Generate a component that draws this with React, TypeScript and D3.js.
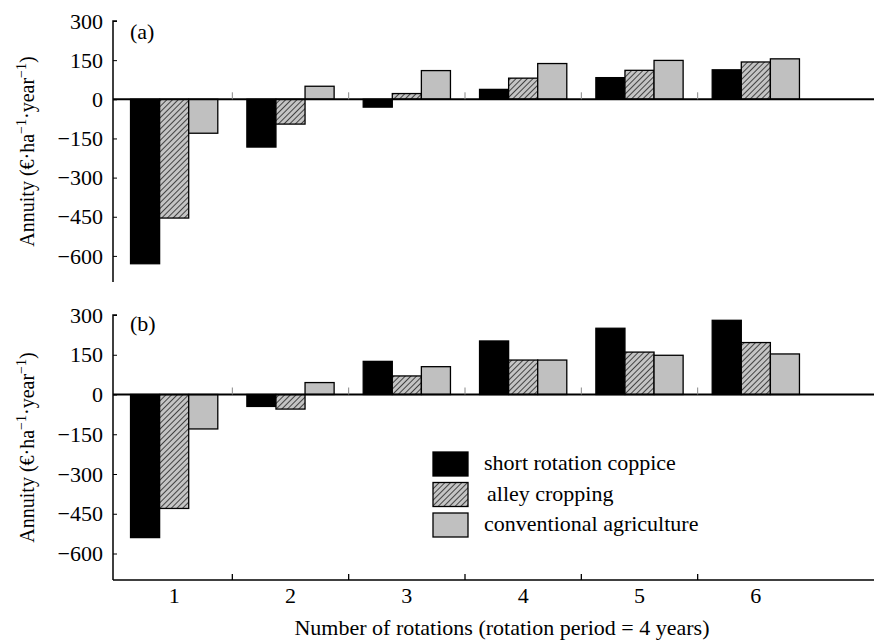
import { useEffect, useRef } from "react";
import * as d3 from "d3";

const width = 874;
const height = 644;

const rotations = ["1", "2", "3", "4", "5", "6"];
const seriesNames = ["short rotation coppice", "alley cropping", "conventional agriculture"];
const yTicks = [300, 150, 0, -150, -300, -450, -600];

// panel (a)
const coppiceA = [-630, -183, -30, 38, 83, 113];
const alleyA = [-455, -95, 22, 81, 111, 143];
const conventionalA = [-130, 50, 110, 137, 149, 155];

// panel (b)
const coppiceB = [-540, -45, 125, 202, 250, 280];
const alleyB = [-430, -55, 70, 130, 160, 196];
const conventionalB = [-130, 45, 105, 130, 148, 153];

const FONT = "'Liberation Serif', 'DejaVu Serif', serif";
const AXIS_X = 113;

function App() {
  const svgRef = useRef(null);

  useEffect(() => {
    const svg = d3.select(svgRef.current);
    svg.selectAll("*").remove();

    // hatch pattern for alley cropping
    const defs = svg.append("defs");
    const pat = defs.append("pattern")
      .attr("id", "hatch")
      .attr("patternUnits", "userSpaceOnUse")
      .attr("width", 4)
      .attr("height", 4)
      .attr("patternTransform", "rotate(45)");
    pat.append("rect").attr("width", 4).attr("height", 4).attr("fill", "#c4c4c4");
    pat.append("line")
      .attr("x1", 0).attr("y1", 0).attr("x2", 0).attr("y2", 4)
      .attr("stroke", "#222").attr("stroke-width", 1.6);

    const fills = ["#000", "url(#hatch)", "#c0c0c0"];

    const xScale = d3.scaleBand().domain(rotations).range([116, 814]).paddingInner(0).paddingOuter(0);
    const inner = d3.scaleBand().domain(seriesNames).range([0, xScale.bandwidth()]).paddingOuter(0.5).paddingInner(0);
    // boundaries between groups
    const bounds = rotations.slice(1).map(r => xScale(r));

    const drawPanel = (series, range, label, labelY, showXAxis) => {
      const yScale = d3.scaleLinear().domain([-700, 300]).range(range);
      const g = svg.append("g");

      // bars
      series.forEach((vals, si) => {
        g.selectAll(null)
          .data(vals)
          .join("rect")
          .attr("x", (d, i) => xScale(rotations[i]) + inner(seriesNames[si]))
          .attr("width", inner.bandwidth())
          .attr("y", d => yScale(Math.max(0, d)))
          .attr("height", d => Math.abs(yScale(d) - yScale(0)))
          .attr("fill", fills[si])
          .attr("stroke", "#000")
          .attr("stroke-width", 1.3);
      });

      // zero line
      g.append("line")
        .attr("x1", AXIS_X).attr("x2", width)
        .attr("y1", yScale(0)).attr("y2", yScale(0))
        .attr("stroke", "#000").attr("stroke-width", 2);

      // small ticks on zero line at group boundaries
      g.selectAll(null)
        .data(bounds)
        .join("line")
        .attr("x1", d => d).attr("x2", d => d)
        .attr("y1", yScale(0) - 7).attr("y2", yScale(0))
        .attr("stroke", "#888").attr("stroke-width", 1);

      // y axis
      const yAxis = g.append("g")
        .attr("transform", `translate(${AXIS_X},0)`)
        .call(d3.axisRight(yScale).tickValues(yTicks).tickSize(4).tickFormat(() => ""));
      yAxis.select(".domain").attr("stroke-width", 1.5).attr("d", `M4,${range[1]}H0V${range[0]}`);

      g.selectAll(null)
        .data(yTicks)
        .join("text")
        .attr("x", AXIS_X - 10)
        .attr("y", d => yScale(d))
        .attr("dy", "0.35em")
        .attr("text-anchor", "end")
        .attr("font-family", FONT)
        .attr("font-size", 22)
        .text(d => (d < 0 ? "\u2212" + Math.abs(d) : String(d)));

      // panel label
      g.append("text")
        .attr("x", AXIS_X + 17)
        .attr("y", labelY)
        .attr("font-family", FONT)
        .attr("font-size", 22)
        .text(label);

      // y axis title
      const midY = (range[0] + range[1]) / 2;
      const t = g.append("text")
        .attr("transform", `translate(34,${midY}) rotate(-90)`)
        .attr("text-anchor", "middle")
        .attr("font-family", FONT)
        .attr("font-size", 20);
      t.append("tspan").text("Annuity (\u20ac\u00b7ha");
      t.append("tspan").attr("font-size", 14).attr("dy", -8).text("\u22121");
      t.append("tspan").attr("dy", 8).text("\u00b7year");
      t.append("tspan").attr("font-size", 14).attr("dy", -8).text("\u22121");
      t.append("tspan").attr("dy", 8).text(")");

      if (showXAxis) {
        const y0 = range[0];
        g.append("line")
          .attr("x1", AXIS_X).attr("x2", width)
          .attr("y1", y0).attr("y2", y0)
          .attr("stroke", "#000").attr("stroke-width", 1.5);
        g.selectAll(null)
          .data(bounds)
          .join("line")
          .attr("x1", d => d).attr("x2", d => d)
          .attr("y1", y0 - 6).attr("y2", y0)
          .attr("stroke", "#000").attr("stroke-width", 1.3);
        g.selectAll(null)
          .data(rotations)
          .join("text")
          .attr("x", d => xScale(d) + xScale.bandwidth() / 2)
          .attr("y", y0 + 23)
          .attr("text-anchor", "middle")
          .attr("font-family", FONT)
          .attr("font-size", 22)
          .text(d => d);
        g.append("text")
          .attr("x", 502)
          .attr("y", y0 + 55)
          .attr("text-anchor", "middle")
          .attr("font-family", FONT)
          .attr("font-size", 22)
          .text("Number of rotations (rotation period = 4 years)");
      }
      return yScale;
    };

    drawPanel([coppiceA, alleyA, conventionalA], [282, 21], "(a)", 39, false);
    drawPanel([coppiceB, alleyB, conventionalB], [580, 315], "(b)", 331, true);

    // legend
    const legend = svg.append("g").attr("transform", "translate(433,452)");
    const rows = legend.selectAll(null)
      .data(seriesNames)
      .join("g")
      .attr("transform", (d, i) => `translate(0,${i * 30.5})`);
    rows.append("rect")
      .attr("width", 35)
      .attr("height", 24)
      .attr("fill", (d, i) => fills[i])
      .attr("stroke", "#000")
      .attr("stroke-width", 1.3);
    rows.append("text")
      .attr("x", (d, i) => (i === 1 ? 54 : 51))
      .attr("y", 18)
      .attr("font-family", FONT)
      .attr("font-size", 22)
      .text(d => d);
  }, []);

  return (
    <div>
      <svg
        ref={svgRef}
        width={width}
        height={height}
        style={{ position: "absolute", left: 0, top: 0, background: "#fff" }}
      />
    </div>
  );
}

export default App;
